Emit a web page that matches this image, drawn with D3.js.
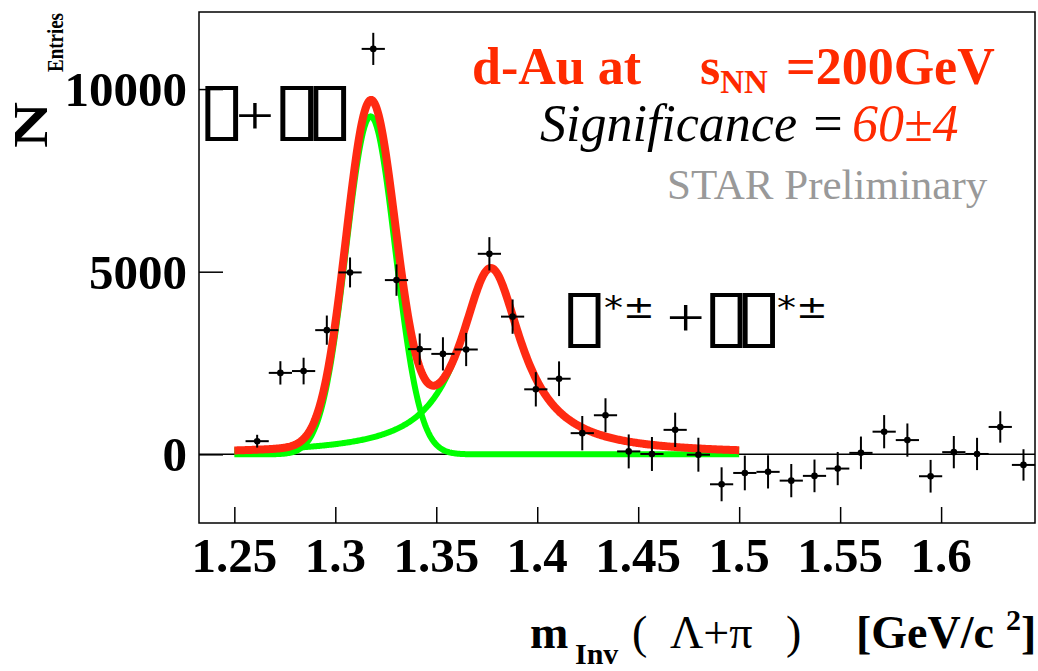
<!DOCTYPE html>
<html>
<head>
<meta charset="utf-8">
<script src="https://cdn.jsdelivr.net/npm/d3@7"></script>
<style>
  body { margin: 0; background: #fff; }
  svg { display: block; }
  text { font-family: "Liberation Serif", "Times New Roman", serif; }
</style>
</head>
<body>
<svg id="chart" width="1038" height="671"></svg>
<script>
// Invariant-mass histogram of Lambda+pi pairs (background subtracted)
const binCenters = [1.2613, 1.2728, 1.2843, 1.2958, 1.3073, 1.3188, 1.3303, 1.3418, 1.3533, 1.3648,
                    1.3763, 1.3878, 1.3993, 1.4108, 1.4223, 1.4338, 1.4453, 1.4568, 1.4683, 1.4798,
                    1.4913, 1.5028, 1.5143, 1.5258, 1.5373, 1.5488, 1.5603, 1.5718, 1.5833, 1.5948,
                    1.6063, 1.6178, 1.6293, 1.6408];
const counts = [360, 2230, 2280, 3400, 4980, 11100, 4770, 2880, 2750, 2870,
                5490, 3770, 1780, 2070, 580, 1070, 80, 10, 670, -10,
                -820, -510, -480, -720, -590, -390, 40, 620, 390, -600,
                60, 10, 750, -290];
const errors = [175, 320, 365, 400, 410, 440, 430, 430, 455, 455,
                456, 470, 470, 475, 470, 465, 465, 465, 470, 465,
                465, 475, 455, 455, 447, 455, 447, 455, 455, 447,
                442, 442, 430, 430];
const binHalfWidth = 0.00575;

const xTicks = [1.25, 1.3, 1.35, 1.4, 1.45, 1.5, 1.55, 1.6];
const xTickLabels = ["1.25", "1.3", "1.35", "1.4", "1.45", "1.5", "1.55", "1.6"];
const yTicks = [0, 5000, 10000];
const yTickLabels = ["0", "5000", "10000"];

// Fit: Gaussian for the Xi peak, Breit-Wigner for the Sigma(1385) peak
const xiFit = { mean: 1.3175, sigma: 0.0122, amp: 9250 };
const sigmaStarFit = { mass: 1.377, halfWidth: 0.0185, amp: 5100 };
const fitRange = [1.25, 1.5];

const svg = d3.select("#chart");
const frame = { left: 199, right: 1035, top: 12, bottom: 523 };

const x = d3.scaleLinear().domain([1.2325, 1.6465]).range([frame.left, frame.right]);
const y = d3.scaleLinear().domain([-1880, 12110]).range([frame.bottom, frame.top]);

// frame
svg.append("rect")
  .attr("x", frame.left).attr("y", frame.top)
  .attr("width", frame.right - frame.left).attr("height", frame.bottom - frame.top)
  .attr("fill", "none").attr("stroke", "#000").attr("stroke-width", 1.5);

// axes: ticks drawn inward, labels placed separately
const xAxis = d3.axisTop(x).tickValues(xTicks).tickSize(16).tickFormat("");
svg.append("g").attr("transform", `translate(0,${frame.bottom})`).call(xAxis)
  .call(g => g.select(".domain").remove())
  .selectAll("line").attr("stroke", "#000").attr("stroke-width", 1.5);

const yAxis = d3.axisRight(y).tickValues(yTicks).tickSize(24).tickFormat("");
svg.append("g").attr("transform", `translate(${frame.left},0)`).call(yAxis)
  .call(g => g.select(".domain").remove())
  .selectAll("line").attr("stroke", "#000").attr("stroke-width", 1.5);

svg.append("g").selectAll("text").data(xTicks).join("text")
  .attr("x", d => x(d)).attr("y", 572)
  .attr("text-anchor", "middle").attr("font-weight", "bold").attr("font-size", 49)
  .text((d, i) => xTickLabels[i]);

svg.append("g").selectAll("text").data(yTicks).join("text")
  .attr("x", 187).attr("y", d => y(d) + 17)
  .attr("text-anchor", "end").attr("font-weight", "bold").attr("font-size", 49)
  .text((d, i) => yTickLabels[i]);

// zero line
svg.append("line")
  .attr("x1", frame.left).attr("x2", frame.right)
  .attr("y1", y(0)).attr("y2", y(0))
  .attr("stroke", "#000").attr("stroke-width", 1.5);

// fit curves
const grid = d3.range(fitRange[0], fitRange[1] + 1e-9, 0.0005);
const xiShape = m => xiFit.amp * Math.exp(-0.5 * Math.pow((m - xiFit.mean) / xiFit.sigma, 2));
const sigmaShape = m => sigmaStarFit.amp / (1 + Math.pow((m - sigmaStarFit.mass) / sigmaStarFit.halfWidth, 2));
const line = d3.line().x(d => x(d[0])).y(d => y(d[1]));

svg.append("path").datum(grid.map(m => [m, sigmaShape(m)]))
  .attr("d", line).attr("fill", "none").attr("stroke", "#00ff00").attr("stroke-width", 6);
svg.append("path").datum(grid.map(m => [m, xiShape(m)]))
  .attr("d", line).attr("fill", "none").attr("stroke", "#00ff00").attr("stroke-width", 6);
svg.append("path").datum(grid.map(m => [m, xiShape(m) + sigmaShape(m)]))
  .attr("d", line).attr("fill", "none").attr("stroke", "#ff2a12").attr("stroke-width", 8);

// data points with error bars
const pts = svg.append("g").selectAll("g").data(binCenters).join("g");
pts.append("line")
  .attr("x1", d => x(d - binHalfWidth)).attr("x2", d => x(d + binHalfWidth))
  .attr("y1", (d, i) => y(counts[i])).attr("y2", (d, i) => y(counts[i]))
  .attr("stroke", "#000").attr("stroke-width", 2);
pts.append("line")
  .attr("x1", d => x(d)).attr("x2", d => x(d))
  .attr("y1", (d, i) => y(counts[i] - errors[i])).attr("y2", (d, i) => y(counts[i] + errors[i]))
  .attr("stroke", "#000").attr("stroke-width", 2);
pts.append("circle")
  .attr("cx", d => x(d)).attr("cy", (d, i) => y(counts[i])).attr("r", 3.3).attr("fill", "#000");

// axis titles
svg.append("text").attr("transform", "translate(47,148) rotate(-90)")
  .attr("font-weight", "bold").attr("font-size", 48)
  .attr("textLength", 46).attr("lengthAdjust", "spacingAndGlyphs").text("N");
svg.append("text").attr("transform", "translate(63,72) rotate(-90)")
  .attr("font-weight", "bold").attr("font-size", 23)
  .attr("textLength", 59).attr("lengthAdjust", "spacingAndGlyphs").text("Entries");

const xTitle = svg.append("text").attr("y", 648).attr("font-weight", "bold").attr("font-size", 46);
xTitle.append("tspan").attr("x", 530).text("m");
xTitle.append("tspan").attr("x", 575).attr("dy", 16).attr("font-size", 30).text("Inv");
xTitle.append("tspan").attr("x", 632).attr("dy", -16).attr("font-weight", "normal").text("(");
xTitle.append("tspan").attr("x", 670).attr("font-weight", "normal").text("Λ+π");
xTitle.append("tspan").attr("x", 786).attr("font-weight", "normal").text(")");
xTitle.append("tspan").attr("x", 856).text("[GeV/c");
xTitle.append("tspan").attr("x", 1006).attr("dy", -18).attr("font-size", 30).text("2");
xTitle.append("tspan").attr("x", 1021).attr("dy", 18).text("]");

// collision system and energy
const sys = svg.append("text").attr("y", 84).attr("font-weight", "bold").attr("fill", "#ff2a00").attr("font-size", 52);
sys.append("tspan").attr("x", 472).text("d-Au at");
sys.append("tspan").attr("x", 700).text("s");
sys.append("tspan").attr("dy", 9).attr("font-size", 33).text("NN");
sys.append("tspan").attr("x", 786).attr("dy", -9).text("=200GeV");

const sig = svg.append("text").attr("y", 141).attr("font-style", "italic").attr("font-size", 52);
sig.append("tspan").attr("x", 540).attr("fill", "#000").text("Significance =");
sig.append("tspan").attr("x", 852).attr("fill", "#ff2a00").text("60±4");

svg.append("text").attr("x", 667).attr("y", 199).attr("font-size", 43).attr("fill", "#999")
  .text("STAR Preliminary");

// particle labels: the symbol glyphs come out as plain boxes. Each label is one
// text element, stretched so that the boxes fill the given ink rectangle; the
// other pieces are placed by their ink position.
const boxFont = "DejaVu Sans";
const measureCtx = document.createElement("canvas").getContext("2d");
measureCtx.font = `100px "${boxFont}"`;
const boxMetrics = measureCtx.measureText("▯");
const boxInkW = boxMetrics.actualBoundingBoxLeft + boxMetrics.actualBoundingBoxRight;
const boxInkH = boxMetrics.actualBoundingBoxAscent + boxMetrics.actualBoundingBoxDescent;

function glyphLabel(box, pieces) {
  const sx = box.w / boxInkW, sy = box.h / boxInkH;
  const ox = box.left + boxMetrics.actualBoundingBoxLeft * sx;
  const oy = box.top + boxMetrics.actualBoundingBoxAscent * sy;
  const t = svg.append("text")
    .attr("transform", `translate(${ox},${oy}) scale(${sx},${sy})`)
    .attr("font-family", boxFont).attr("font-size", 100);
  let pen = 0, base = 0;
  pieces.forEach(p => {
    const family = p.family || boxFont;
    const size = p.size ? p.size / sx : 100;
    measureCtx.font = `${size}px "${family}"`;
    const m = measureCtx.measureText(p.text);
    const inkW = m.actualBoundingBoxLeft + m.actualBoundingBoxRight;
    // box runs close up so neighbouring boxes touch; a piece followed by a box
    // run drops its trailing side bearing and stays clear of that run
    let spacing = 0;
    if (p.boxes) spacing = boxInkW - boxMetrics.width;
    if (p.beforeBoxAt !== undefined) spacing = m.actualBoundingBoxRight - m.width;
    let inkCenter = p.inkCenter;
    if (inkCenter !== undefined && p.beforeBoxAt !== undefined) {
      const runStart = p.beforeBoxAt + boxMetrics.actualBoundingBoxLeft * sx;
      inkCenter = Math.min(inkCenter, runStart - inkW * sx / 2 - 0.5);
    }
    const originL = inkCenter !== undefined
      ? (inkCenter - ox) / sx + m.actualBoundingBoxLeft - inkW / 2
      : (p.inkLeft - ox) / sx + m.actualBoundingBoxLeft;
    let baseL = 0;
    if (p.baseline !== undefined) baseL = (p.baseline - oy) / sy;
    if (p.inkMidY !== undefined)
      baseL = (p.inkMidY - oy) / sy + (m.actualBoundingBoxAscent - m.actualBoundingBoxDescent) / 2;
    t.append("tspan")
      .attr("dx", originL - pen).attr("dy", baseL - base)
      .attr("font-family", family).attr("font-size", size)
      .attr("letter-spacing", spacing)
      .text(p.text);
    pen = originL + m.width + spacing * p.text.length;
    base = baseL;
  });
}

glyphLabel({ left: 205, top: 85, w: 33, h: 56 }, [
  { text: "▯", boxes: true, inkLeft: 205 },
  { text: "+", family: "Liberation Serif", size: 68, inkCenter: 261, inkMidY: 116.5, beforeBoxAt: 280 },
  { text: "▯▯", boxes: true, inkLeft: 280 }
]);

glyphLabel({ left: 568, top: 292, w: 32.5, h: 56 }, [
  { text: "▯", boxes: true, inkLeft: 568 },
  { text: "*±", size: 38, inkLeft: 605, baseline: 318 },
  { text: "+", family: "Liberation Serif", size: 68, inkCenter: 688.5, inkMidY: 317.5, beforeBoxAt: 710 },
  { text: "▯▯", boxes: true, inkLeft: 710 },
  { text: "*±", size: 38, inkLeft: 778, baseline: 318 }
]);
</script>
</body>
</html>
